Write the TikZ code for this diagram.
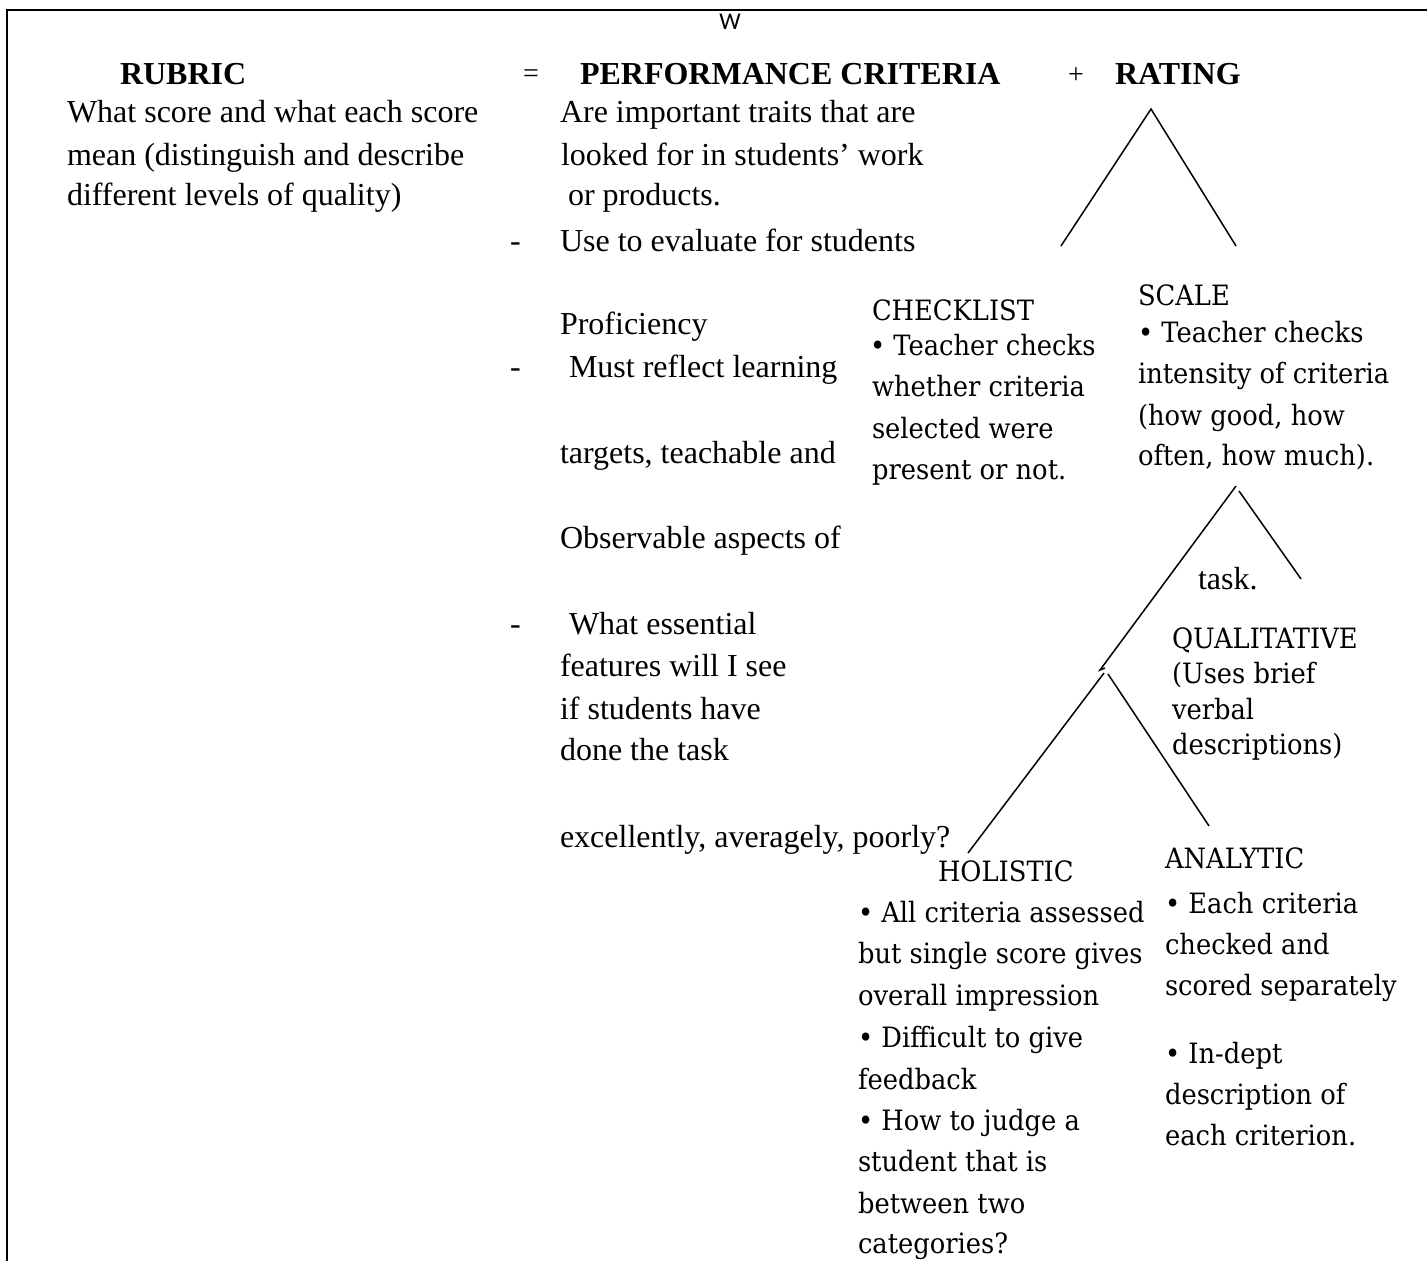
\documentclass[tikz,border=0pt]{standalone}
\usepackage{fontspec}
\setmainfont{Liberation Serif}
\newfontfamily\camfont[FakeStretch=0.92]{DejaVu Serif}
\newfontfamily\calfont{Carlito}
\begin{document}
\begin{tikzpicture}[x=0.5pt,y=-0.5pt,
  every node/.style={inner sep=0pt,outer sep=0pt},
  tms/.style={font=\fontsize{16}{19}\selectfont,anchor=base west},
  hd/.style={font=\bfseries\fontsize{16}{19}\selectfont,anchor=base west},
  cam/.style={font=\camfont\fontsize{14}{17}\selectfont,anchor=base west},
  branch/.style={line width=0.75pt},
  frameline/.style={line width=1.3pt}]
\useasboundingbox (0,0) rectangle (1427,1261);
\draw[frameline] (7,1300) -- (7,10) -- (1460,10);

% top row
\node[font=\calfont\fontsize{12}{14}\selectfont] (w) at (730,22) {W};
\node[hd] (rubric) at (120,85) {RUBRIC};
\node[font=\fontsize{14}{16}\selectfont] (eq) at (531,76) {=};
\node[hd] (perf) at (580,85) {PERFORMANCE CRITERIA};
\node[font=\fontsize{14}{16}\selectfont] (plus) at (1076,76) {+};
\node[hd] (rating) at (1115,85) {RATING};

% left column
\node[tms] (l1) at (67,123) {What score and what each score};
\node[tms] (l2) at (67,166) {mean (distinguish and describe};
\node[tms] (l3) at (67,206) {different levels of quality)};

% middle column
\node[tms] (m1) at (560,123) {Are important traits that are};
\node[tms] (m2) at (561,166) {looked for in students’ work};
\node[tms] (m3) at (568,206) {or products.};
\node[tms] (d1) at (510,252) {-};
\node[tms] (m4) at (560,252) {Use to evaluate for students};
\node[tms] (m5) at (560,335) {Proficiency};
\node[tms] (d2) at (510,378) {-};
\node[tms] (m6) at (569,378) {Must reflect learning};
\node[tms] (m7) at (560,463) {targets, teachable and};
\node[tms] (m8) at (560,548) {Observable aspects of};
\node[tms] (d3) at (510,634) {-};
\node[tms] (m9) at (569,634) {What essential};
\node[tms] (m10) at (560,676) {features will I see};
\node[tms] (m11) at (560,719) {if students have};
\node[tms] (m12) at (560,760) {done the task};
\node[tms] (m13) at (560,847) {excellently, averagely, poorly?};

% checklist
\node[cam] (c0) at (872,321) {CHECKLIST};
\node[cam] (c1) at (870,356) {• Teacher checks};
\node[cam] (c2) at (872,397) {whether criteria};
\node[cam] (c3) at (872,438) {selected were};
\node[cam] (c4) at (872,479) {present or not.};

% scale
\node[cam] (s0) at (1138,306) {SCALE};
\node[cam] (s1) at (1138,343) {• Teacher checks};
\node[cam] (s2) at (1138,384) {intensity of criteria};
\node[cam] (s3) at (1138,425) {(how good, how};
\node[cam] (s4) at (1138,466) {often, how much).};

\node[tms] (task) at (1198,589) {task.};

% qualitative
\node[cam] (q0) at (1172,648) {QUALITATIVE};
\node[cam] (q1) at (1172,683) {(Uses brief};
\node[cam] (q2) at (1172,719) {verbal};
\node[cam] (q3) at (1172,754) {descriptions)};

% holistic
\node[cam] (h0) at (938,881) {HOLISTIC};
\node[cam] (h1) at (858,922) {• All criteria assessed};
\node[cam] (h2) at (858,963) {but single score gives};
\node[cam] (h3) at (858,1005) {overall impression};
\node[cam] (h4) at (858,1047) {• Difficult to give};
\node[cam] (h5) at (858,1089) {feedback};
\node[cam] (h6) at (858,1130) {• How to judge a};
\node[cam] (h7) at (858,1171) {student that is};
\node[cam] (h8) at (858,1213) {between two};
\node[cam] (h9) at (858,1253) {categories?};

% analytic
\node[cam] (a0) at (1165,868) {ANALYTIC};
\node[cam] (a1) at (1165,913) {• Each criteria};
\node[cam] (a2) at (1165,954) {checked and};
\node[cam] (a3) at (1165,995) {scored separately};
\node[cam] (a4) at (1165,1063) {• In-dept};
\node[cam] (a5) at (1165,1104) {description of};
\node[cam] (a6) at (1165,1145) {each criterion.};

% branch coordinates
\coordinate (rtop) at (1151,109);
\coordinate (rleft) at (1061,246);
\coordinate (rright) at (1236,246);
\coordinate (stopL) at (1236,486);
\coordinate (stopR) at (1239,491);
\coordinate (sleft) at (1100,670);
\coordinate (shook) at (1105,668);
\coordinate (sright) at (1301,579);
\coordinate (qtopL) at (1104,673);
\coordinate (qtopR) at (1108,674);
\coordinate (qleft) at (968,853);
\coordinate (qright) at (1209,826);

\draw[branch] (rleft) -- (rtop) -- (rright);
\draw[branch] (shook) -- (sleft) -- (stopL);
\draw[branch] (stopR) -- (sright);
\draw[branch] (qtopL) -- (qleft);
\draw[branch] (qtopR) -- (qright);
\end{tikzpicture}
\end{document}
